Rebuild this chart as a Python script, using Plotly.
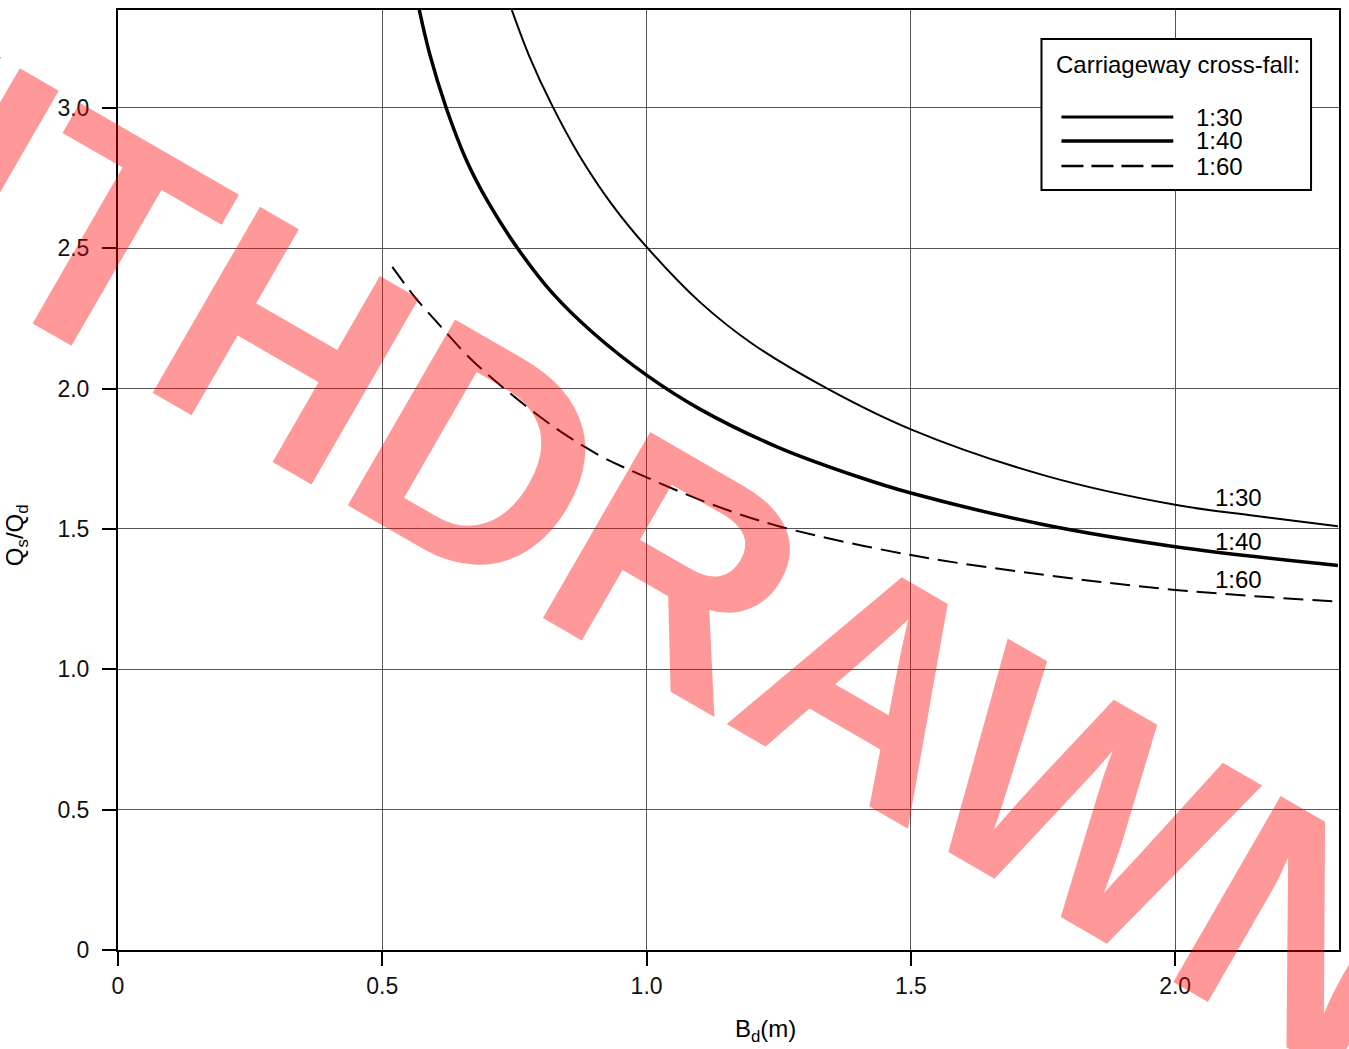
import plotly.graph_objects as go

# ---- data ----
x_130 = [0.745, 0.778, 0.821, 0.873, 0.935, 1.0, 1.1, 1.2, 1.342, 1.5, 1.754, 2.0, 2.15, 2.308]
y_130 = [3.349, 3.185, 3.01, 2.83, 2.655, 2.505, 2.31, 2.16, 2.0, 1.855, 1.69, 1.586, 1.547, 1.51]

x_140 = [0.570, 0.590, 0.621, 0.660, 0.700, 0.756, 0.822, 0.898, 1.0, 1.1, 1.25, 1.4, 1.5, 1.75, 2.0, 2.308]
y_140 = [3.349, 3.19, 3.0, 2.81, 2.665, 2.50, 2.34, 2.20, 2.048, 1.928, 1.79, 1.686, 1.628, 1.516, 1.437, 1.37]

x_160 = [0.519, 0.560, 0.608, 0.665, 0.731, 0.82, 0.910, 1.0, 1.12, 1.25, 1.5, 1.754, 2.0, 2.308]
y_160 = [2.434, 2.33, 2.227, 2.11, 2.0, 1.87, 1.763, 1.684, 1.59, 1.51, 1.407, 1.336, 1.283, 1.241]

series_names = ["1:30", "1:40", "1:60"]
label_x = [2.12, 2.12, 2.12]
label_y = [1.612, 1.457, 1.320]

x_tickvals = [0, 0.5, 1.0, 1.5, 2.0]
x_ticktext = ["0", "0.5", "1.0", "1.5", "2.0"]
y_tickvals = [0, 0.5, 1.0, 1.5, 2.0, 2.5, 3.0]
y_ticktext = ["0", "0.5", "1.0", "1.5", "2.0", "2.5", "3.0"]

legend_title = "Carriageway cross-fall:"
x_title = "B<sub>d</sub>(m)"
y_title = "Q<sub>s</sub>/Q<sub>d</sub>"
watermark = "WITHDRAWN"

FONT = "Liberation Sans, Arial, Helvetica, sans-serif"
W, H = 1349, 1049
ML, MR, MT, MB = 118, 8, 10, 99
PW, PH = W - ML - MR, H - MT - MB


def px(x):
    return (x - ML) / PW


def py(y):
    return (H - MB - y) / PH


fig = go.Figure()
styles = [
    dict(color="black", width=2),
    dict(color="black", width=3.5),
    dict(color="black", width=2, dash="20px,9px"),
]
for name, xs, ys, st in zip(series_names, [x_130, x_140, x_160], [y_130, y_140, y_160], styles):
    fig.add_trace(go.Scatter(x=xs, y=ys, mode="lines", name=name, line=dict(shape="spline", smoothing=1.0, **st),
                             showlegend=False, hoverinfo="skip"))

annotations = []
for name, lx, ly in zip(series_names, label_x, label_y):
    annotations.append(dict(x=lx, y=ly, xref="x", yref="y", text=name, showarrow=False,
                            font=dict(family=FONT, size=24, color="black"), xanchor="center", yanchor="middle"))

# legend box (drawn by hand so the spacing matches)
shapes = [dict(type="rect", xref="paper", yref="paper", x0=px(1043), x1=px(1313), y0=py(190), y1=py(39),
               line=dict(color="black", width=2), fillcolor="white", layer="above")]
annotations.append(dict(x=px(1056), y=py(65), xref="paper", yref="paper", text=legend_title, showarrow=False,
                        font=dict(family=FONT, size=24, color="black"), xanchor="left", yanchor="middle"))
leg_y = [117, 141, 166]
leg_styles = [dict(color="black", width=3), dict(color="black", width=3.5), dict(color="black", width=2.5, dash="22px,8px")]
for name, ly, st in zip(series_names, leg_y, leg_styles):
    shapes.append(dict(type="line", xref="paper", yref="paper", x0=px(1063), x1=px(1175), y0=py(ly), y1=py(ly),
                       line=st, layer="above"))
    annotations.append(dict(x=px(1196), y=py(ly), xref="paper", yref="paper", text=name, showarrow=False,
                            font=dict(family=FONT, size=24, color="black"), xanchor="left", yanchor="middle"))

# axis titles
annotations.append(dict(x=px(767), y=py(1030), xref="paper", yref="paper", text=x_title, showarrow=False,
                        font=dict(family=FONT, size=24, color="black"), xanchor="center", yanchor="middle"))
annotations.append(dict(x=px(16), y=py(535), xref="paper", yref="paper", text=y_title, showarrow=False,
                        textangle=-90, font=dict(family=FONT, size=24, color="black"),
                        xanchor="center", yanchor="middle"))

# watermark
annotations.append(dict(x=px(550), y=py(497), xref="paper", yref="paper", text="<b>" + watermark + "</b>",
                        showarrow=False, textangle=30,
                        font=dict(family=FONT, size=312, color="rgba(255,0,0,0.4)"),
                        xanchor="center", yanchor="middle"))

axis_common = dict(showline=True, linecolor="black", linewidth=2, mirror=True, ticks="outside", ticklen=14,
                   tickwidth=2, tickcolor="black", showgrid=True, gridcolor="#555", gridwidth=1, zeroline=False,
                   tickfont=dict(family=FONT, size=23, color="#111"))

fig.update_layout(
    width=W, height=H,
    margin=dict(l=ML, r=MR, t=MT, b=MB, pad=0),
    paper_bgcolor="white", plot_bgcolor="white",
    xaxis=dict(range=[0, 2.31], tickvals=x_tickvals, ticktext=x_ticktext, ticklabelstandoff=0, **axis_common),
    yaxis=dict(range=[0, 3.349], tickvals=y_tickvals, ticktext=y_ticktext, ticklabelstandoff=8, **axis_common),
    shapes=shapes,
    annotations=annotations,
    showlegend=False,
)

fig.write_html("out.html")
